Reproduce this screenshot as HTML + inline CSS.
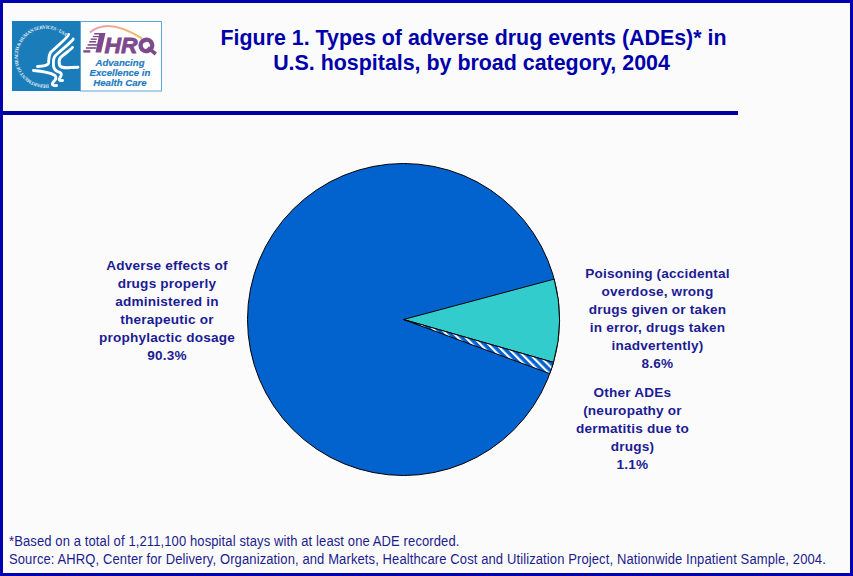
<!DOCTYPE html>
<html><head><meta charset="utf-8">
<style>
html,body{margin:0;padding:0;}
body{width:853px;height:576px;position:relative;overflow:hidden;background:#fff;font-family:"Liberation Sans",sans-serif;}
.frame{position:absolute;left:0;top:0;width:847px;height:570px;border:3px solid #0000B0;background:#FBFBFC;}
.rule{position:absolute;left:3px;top:111px;width:735px;height:4px;background:#0000A0;}
.title{position:absolute;left:173.5px;top:26px;width:600px;text-align:center;font-weight:bold;font-size:21.4px;line-height:25px;color:#0000AA;}
.lbl{position:absolute;text-align:center;font-weight:bold;font-size:13.6px;line-height:18px;color:#1C1C94;letter-spacing:0.2px;}
.foot{position:absolute;left:9px;font-size:13px;line-height:18px;color:#1C1C8C;white-space:nowrap;letter-spacing:0.11px;transform:scaleY(1.08);transform-origin:0 13.3px;}
svg{position:absolute;left:0;top:0;}
</style></head><body>
<div class="frame"></div>
<div class="rule"></div>
<svg width="853" height="576" viewBox="0 0 853 576">
  <defs>
    <linearGradient id="arcg" x1="0" x2="1" y1="0" y2="0"><stop offset="0" stop-color="#E89AB8"/><stop offset="1" stop-color="#F2C060"/></linearGradient>
    <pattern id="hatch" patternUnits="userSpaceOnUse" width="5.6" height="8" patternTransform="rotate(-45)">
      <rect width="5.6" height="8" fill="#0363CE"/>
      <rect width="2.1" height="8" fill="#fff"/>
    </pattern>
  </defs>
  <!-- logo -->
  <rect x="12" y="21" width="68" height="70" fill="#1A7CB9"/>
  <path id="hhsarc" d="M48.63 84.55 A28.0 28.0 0 1 1 65.50 36.90" fill="none"/>
  <text font-family="Liberation Serif" font-size="4.8" font-weight="bold" fill="#E8F0F8" letter-spacing="-0.33"><textPath href="#hhsarc">DEPARTMENT OF HEALTH &amp; HUMAN SERVICES · USA</textPath></text>
  <g fill="none" stroke="#fff" stroke-width="2.9" stroke-linecap="round" stroke-linejoin="round">
    <path d="M68.7 34.5 C69 36 60 44 51 52 C48.5 55 49 60 48.5 63 C48 65.5 44 66 37.5 66.5"/>
    <path d="M73.2 39 C73 41 62 49 55.5 55.5 C52.5 59 53.5 63 53.5 66 C54 69 56 71 58.5 71.8 C62 72.5 62 75 60 77.5 C58.5 79.5 59 81 62.5 80.5"/>
    <path d="M72.5 47.4 C72 49 64 54 60.5 57.5 C58.5 60 59 63 59.5 65 C60.5 68 64 68 71 67.5 L78 67.2"/>
    <path d="M33.5 70.5 C40 71 50 72.5 55 75.5 C57 77.5 55.5 80 53 82.5 C51.5 84.5 53 86 56.5 85.5"/>
  </g>
  <rect x="80.5" y="21.5" width="81" height="69.5" fill="#fff" stroke="#5AA8D8" stroke-width="1"/>
  <path d="M90 32.5 Q108 17 142 38.5" fill="none" stroke="url(#arcg)" stroke-width="2.1"/>
  <g fill="#7E4A8E">
    <polygon points="99.4,33 105.5,33 101.1,52.6 95.5,52.6"/>
    <rect x="94.2" y="33" width="6" height="1.5"/>
    <rect x="92.9" y="35.9" width="7" height="1.3"/>
    <rect x="90.7" y="38.5" width="6.1" height="1.4"/>
    <rect x="89.2" y="41" width="6.8" height="1.6"/>
    <rect x="87.6" y="44.1" width="11" height="1.6"/>
    <rect x="85.9" y="47.2" width="10.5" height="1.6"/>
    <rect x="83.3" y="50.2" width="7" height="2.4"/>
  </g>
  <text x="104.6" y="53" font-family="Liberation Sans" font-weight="bold" font-style="italic" font-size="22" fill="#7E4A8E" stroke="#7E4A8E" stroke-width="0.8" textLength="33" lengthAdjust="spacingAndGlyphs">HR</text>
  <ellipse cx="146.4" cy="45.4" rx="5.8" ry="5.6" transform="rotate(-20 146.4 45.4)" fill="none" stroke="#7E4A8E" stroke-width="4.4"/>
  <path d="M147.8 47.6 L155.8 54" stroke="#7E4A8E" stroke-width="3.6" stroke-linecap="butt"/>
  <g font-family="Liberation Sans" font-weight="bold" font-style="italic" font-size="9.6" fill="#1F7BBF" stroke="#1F7BBF" stroke-width="0.2" text-anchor="middle">
    <text x="120" y="65.7">Advancing</text>
    <text x="120" y="76">Excellence in</text>
    <text x="120" y="85.8">Health Care</text>
  </g>
  <!-- pie -->
  <circle cx="403.5" cy="319.5" r="156" fill="#0363CE" stroke="#000" stroke-width="1"/>
  <path d="M403.5 319.5 L554.18 279.12 A156 156 0 0 1 553.49 362.39 Z" fill="#33CCCC" stroke="#000" stroke-width="1"/>
  <path d="M403.5 319.5 L553.49 362.39 A156 156 0 0 1 549.81 373.62 Z" fill="url(#hatch)" stroke="#000" stroke-width="1"/>
</svg>
<div class="title">Figure 1. Types of adverse drug events (ADEs)* in</div>
<div class="title" style="top:51px;left:171.5px;">U.S. hospitals, by broad category, 2004</div>
<div class="lbl" style="left:92px;top:257px;width:150px;">Adverse effects of<br>drugs properly<br>administered in<br>therapeutic or<br>prophylactic dosage<br>90.3%</div>
<div class="lbl" style="left:570px;top:265px;width:175px;">Poisoning (accidental<br>overdose, wrong<br>drugs given or taken<br>in error, drugs taken<br>inadvertently)<br>8.6%</div>
<div class="lbl" style="left:560px;top:384px;width:145px;">Other ADEs<br>(neuropathy or<br>dermatitis due to<br>drugs)<br>1.1%</div>
<div class="foot" style="top:533px;">*Based on a total of 1,211,100 hospital stays with at least one ADE recorded.</div>
<div class="foot" style="top:551px;">Source: AHRQ, Center for Delivery, Organization, and Markets, Healthcare Cost and Utilization Project, Nationwide Inpatient Sample, 2004.</div>
</body></html>
